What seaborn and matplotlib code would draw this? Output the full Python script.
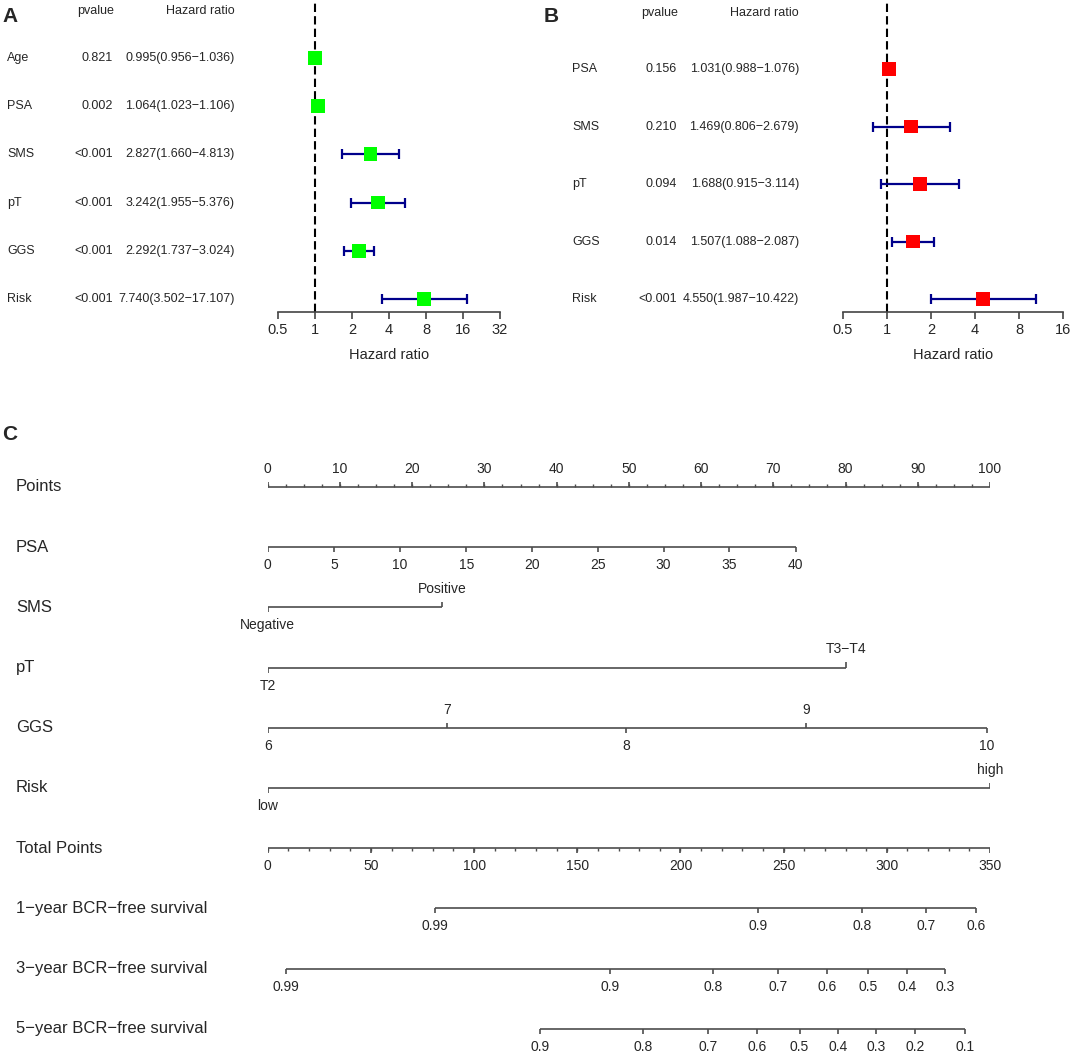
# Forest plots (univariate / multivariate Cox) + nomogram
import numpy as np
import pandas as pd
import seaborn as sns
import matplotlib.pyplot as plt
from matplotlib import transforms
from matplotlib.ticker import NullLocator

# ---- panel A: univariate Cox ----
uni_vars = ['Age', 'PSA', 'SMS', 'pT', 'GGS', 'Risk']
uni_p = ['0.821', '0.002', '<0.001', '<0.001', '<0.001', '<0.001']
uni_hr = [0.995, 1.064, 2.827, 3.242, 2.292, 7.740]
uni_lo = [0.956, 1.023, 1.660, 1.955, 1.737, 3.502]
uni_hi = [1.036, 1.106, 4.813, 5.376, 3.024, 17.107]
uni_ticks = [0.5, 1, 2, 4, 8, 16, 32]

# ---- panel B: multivariate Cox ----
multi_vars = ['PSA', 'SMS', 'pT', 'GGS', 'Risk']
multi_p = ['0.156', '0.210', '0.094', '0.014', '<0.001']
multi_hr = [1.031, 1.469, 1.688, 1.507, 4.550]
multi_lo = [0.988, 0.806, 0.915, 1.088, 1.987]
multi_hi = [1.076, 2.679, 3.114, 2.087, 10.422]
multi_ticks = [0.5, 1, 2, 4, 8, 16]

# ---- panel C: nomogram (positions in points 0-100 / total points 0-350) ----
points_labels = ['0', '10', '20', '30', '40', '50', '60', '70', '80', '90', '100']
points_pos = [0, 10, 20, 30, 40, 50, 60, 70, 80, 90, 100]
psa_labels = ['0', '5', '10', '15', '20', '25', '30', '35', '40']
psa_pos = [0, 9.2, 18.3, 27.5, 36.6, 45.7, 54.8, 63.9, 73.1]
sms_labels = ['Negative', 'Positive']
sms_pos = [0, 24.1]
pt_labels = ['T2', 'T3\u2212T4']
pt_pos = [0, 80.1]
ggs_labels = ['6', '7', '8', '9', '10']
ggs_pos = [0, 24.8, 49.6, 74.5, 99.6]
risk_labels = ['low', 'high']
risk_pos = [0, 100]
total_labels = ['0', '50', '100', '150', '200', '250', '300', '350']
total_pos = [0, 50, 100, 150, 200, 250, 300, 350]
surv1_labels = ['0.99', '0.9', '0.8', '0.7', '0.6']
surv1_total = [80.9, 237.5, 287.9, 319.1, 343.1]
surv3_labels = ['0.99', '0.9', '0.8', '0.7', '0.6', '0.5', '0.4', '0.3']
surv3_total = [8.9, 165.7, 215.9, 247.1, 271.1, 291.1, 309.9, 328.2]
surv5_labels = ['0.9', '0.8', '0.7', '0.6', '0.5', '0.4', '0.3', '0.2', '0.1']
surv5_total = [132.1, 181.8, 213.2, 237.2, 257.7, 276.3, 294.6, 313.9, 337.9]
total_max = 350

sns.set_theme(style='white')
plt.rcParams['font.family'] = ['Liberation Sans', 'DejaVu Sans']

W, H = 1072, 1054
fig = plt.figure(figsize=(W / 100, H / 100), dpi=100)


def px_axes(l, t, r, b):
    return fig.add_axes([l / W, 1 - b / H, (r - l) / W, (b - t) / H])


def forest(ax, names, pvals, hr, lo, hi, ticks, color, x_lab, x_p, x_hr, ylim):
    df = pd.DataFrame({'var': names, 'p': pvals, 'hr': hr, 'lo': lo, 'hi': hi})
    df['row'] = np.arange(len(df))
    ax.axvline(1, color='black', ls=(0, (4, 2)), lw=1.5, zorder=1)
    ax.errorbar(df['hr'], df['row'], xerr=[df['hr'] - df['lo'], df['hi'] - df['hr']],
                fmt='none', ecolor='#00008B', elinewidth=1.6, capsize=3.6,
                capthick=1.6, zorder=2)
    sns.scatterplot(data=df, x='hr', y='row', marker='s', s=100, color=color,
                    edgecolor='none', linewidth=0, ax=ax, zorder=3, legend=False)
    ax.set_xscale('log', base=2)
    ax.set_xlim(ticks[0], ticks[-1])
    ax.set_xticks(ticks)
    ax.set_xticklabels([f'{t:g}' for t in ticks], fontsize=10.5)
    ax.xaxis.set_minor_locator(NullLocator())
    ax.set_ylim(*ylim)
    ax.set_yticks([])
    ax.set_xlabel('Hazard ratio', fontsize=10.5, labelpad=8)
    ax.set_ylabel('')
    for s in ['top', 'left', 'right']:
        ax.spines[s].set_visible(False)
    ax.spines['bottom'].set_color('#444444')
    ax.spines['bottom'].set_linewidth(1.2)
    ax.tick_params(axis='x', bottom=True, direction='out', length=5, width=1.2,
                   color='#444444', pad=3)
    tr = transforms.blended_transform_factory(fig.transFigure, ax.transData)
    kw = dict(transform=tr, fontsize=9, va='center', clip_on=False)
    ax.text(x_p / W - 0.016, -0.97, 'pvalue', ha='center', **kw)
    ax.text(x_hr / W, -0.97, 'Hazard ratio', ha='right', **kw)
    for _, r in df.iterrows():
        ax.text(x_lab / W, r['row'], r['var'], ha='left', **kw)
        ax.text(x_p / W, r['row'], r['p'], ha='right', **kw)
        ax.text(x_hr / W, r['row'],
                f"{r['hr']:.3f}({r['lo']:.3f}\u2212{r['hi']:.3f})", ha='right', **kw)


axA = px_axes(278, 0, 500, 312)
forest(axA, uni_vars, uni_p, uni_hr, uni_lo, uni_hi, uni_ticks, '#00FF00',
       7, 113, 235, (5.27, -1.2))
axB = px_axes(843, 0, 1063, 312)
forest(axB, multi_vars, multi_p, multi_hr, multi_lo, multi_hi, multi_ticks, '#FF0000',
       572, 677, 799, (4.226, -1.2))

fig.text(2 / W, 1 - 16 / H, 'A', fontsize=15, fontweight='bold', va='center')
fig.text(544 / W, 1 - 16 / H, 'B', fontsize=15, fontweight='bold', va='center')
fig.text(2 / W, 1 - 435 / H, 'C', fontsize=15, fontweight='bold', va='center')

# ---- nomogram ----
axC = px_axes(267.7, 440, 990, 1054)
axC.set_xlim(0, 100)
axC.set_ylim(9.42, -0.78)
axC.axis('off')
line_col = '#4d4d4d'


def draw_scale(row, xs, labels, sides, minor=None, minor_side='down'):
    axC.hlines(row, min(xs), max(xs), color=line_col, lw=1.2)
    for x, lab, side in zip(xs, labels, sides):
        d = -1 if side == 'up' else 1
        axC.vlines(x, row, row + d * 0.085, color=line_col, lw=1.2)
        axC.text(x, row + d * 0.3, lab, ha='center', va='center', fontsize=10)
    if minor is not None:
        d = -1 if minor_side == 'up' else 1
        axC.vlines(minor, row, row + d * 0.05, color=line_col, lw=1.0)


def to_points(vals):
    return [v * 100 / total_max for v in vals]


row_names = ['Points', 'PSA', 'SMS', 'pT', 'GGS', 'Risk', 'Total Points',
             '1\u2212year BCR\u2212free survival', '3\u2212year BCR\u2212free survival',
             '5\u2212year BCR\u2212free survival']
trC = transforms.blended_transform_factory(fig.transFigure, axC.transData)
for i, name in enumerate(row_names):
    axC.text(16 / W, i, name, transform=trC, fontsize=12, ha='left', va='center')

draw_scale(0, points_pos, points_labels, ['up'] * len(points_pos),
           minor=np.arange(0, 100.01, 2.5), minor_side='up')
draw_scale(1, psa_pos, psa_labels, ['down'] * len(psa_pos))
draw_scale(2, sms_pos, sms_labels, ['down', 'up'])
draw_scale(3, pt_pos, pt_labels, ['down', 'up'])
draw_scale(4, ggs_pos, ggs_labels, ['down', 'up', 'down', 'up', 'down'])
draw_scale(5, risk_pos, risk_labels, ['down', 'up'])
draw_scale(6, to_points(total_pos), total_labels, ['down'] * len(total_pos),
           minor=to_points(np.arange(0, 351, 10)), minor_side='down')
draw_scale(7, to_points(surv1_total), surv1_labels, ['down'] * len(surv1_total))
draw_scale(8, to_points(surv3_total), surv3_labels, ['down'] * len(surv3_total))
draw_scale(9, to_points(surv5_total), surv5_labels, ['down'] * len(surv5_total))

fig.savefig('out.png', dpi=100)
